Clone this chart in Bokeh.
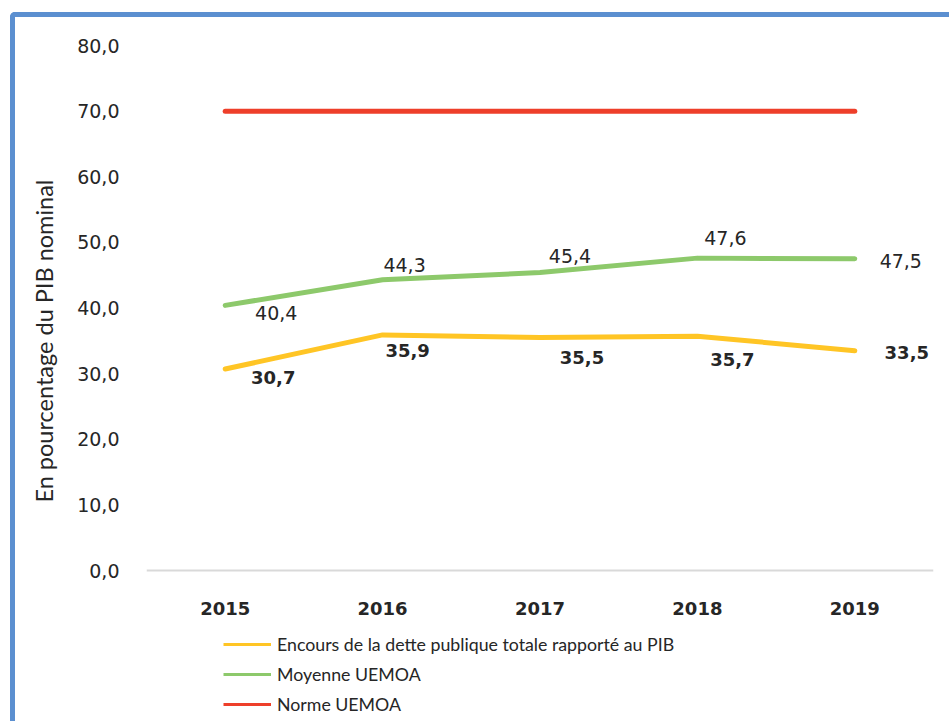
from bokeh.plotting import figure
from bokeh.models import (FactorRange, Range1d, ColumnDataSource, Legend, LegendItem,
                          FixedTicker, InlineStyleSheet, Title)
from bokeh.core.properties import value
from bokeh.embed import file_html
from bokeh.resources import INLINE

years = ["2015", "2016", "2017", "2018", "2019"]
encours = [30.7, 35.9, 35.5, 35.7, 33.5]
moyenne = [40.4, 44.3, 45.4, 47.6, 47.5]
norme = [70.0, 70.0, 70.0, 70.0, 70.0]
y_ticks = [0, 10, 20, 30, 40, 50, 60, 70, 80]

# label offsets (screen px, +y = down) for data labels
enc_dx = [48, 25, 42, 35, 52]
enc_dy = [8, 16, 20, 23, 2]
moy_dx = [51, 22, 30, 28, 46]
moy_dy = [8, -15, -17, -20, 2]

def fmt(v):
    return f"{v:.1f}".replace(".", ",")

YELLOW = "#FFC525"
GREEN = "#8DC96B"
RED = "#EE3F2A"
TXT = "#262626"

W, H = 949, 721
FL, FR, FT, Y0 = 146, 933, 45, 570   # frame left/right/top, pixel row of y=0
y_start = -80.0 * (H - Y0) / (Y0 - FT)

p = figure(x_range=FactorRange(*years), y_range=Range1d(y_start, 80),
           width=W, height=H, output_backend="svg", toolbar_location=None,
           min_border_left=FL, min_border_right=W - FR, min_border_top=FT,
           min_border_bottom=0)
p.outline_line_color = None
p.xgrid.grid_line_color = None
p.ygrid.grid_line_color = None
p.background_fill_color = "white"
p.border_fill_color = "white"

src = ColumnDataSource(dict(x=years, enc=encours, moy=moyenne, nor=norme,
                            enc_t=[fmt(v) for v in encours],
                            moy_t=[fmt(v) for v in moyenne],
                            enc_dx=enc_dx, enc_dy=enc_dy, moy_dx=moy_dx, moy_dy=moy_dy))

p.line("x", "enc", source=src, line_color=YELLOW, line_width=5, line_cap="round", line_join="round")
p.line("x", "moy", source=src, line_color=GREEN, line_width=5, line_cap="round", line_join="round")
p.line("x", "nor", source=src, line_color=RED, line_width=5, line_cap="round", line_join="round")

# thinner line samples for the legend (renderers that draw nothing in the plot)
blank = ColumnDataSource(dict(x=years[:1], y=[float("nan")]))
l_enc = p.line("x", "y", source=blank, line_color=YELLOW, line_width=3)
l_moy = p.line("x", "y", source=blank, line_color=GREEN, line_width=3)
l_nor = p.line("x", "y", source=blank, line_color=RED, line_width=3)

p.text("x", "moy", text="moy_t", source=src, x_offset="moy_dx", y_offset="moy_dy",
       text_align="center", text_baseline="middle", text_font=value("DejaVu Sans"),
       text_font_size="19px", text_color=TXT)
p.text("x", "enc", text="enc_t", source=src, x_offset="enc_dx", y_offset="enc_dy",
       text_align="center", text_baseline="middle", text_font=value("DejaVu Sans"),
       text_font_size="18px", text_font_style="bold", text_color=TXT)

# axes
p.yaxis.ticker = FixedTicker(ticks=y_ticks)
p.yaxis.major_label_overrides = {t: fmt(t) for t in y_ticks}
p.yaxis.axis_line_color = None
p.yaxis.major_tick_line_color = None
p.yaxis.minor_tick_line_color = None
p.yaxis.major_label_standoff = 21
p.yaxis.major_label_text_font = "DejaVu Sans"
p.yaxis.major_label_text_font_size = "19px"
p.yaxis.major_label_text_color = TXT

p.add_layout(Title(text="En pourcentage du PIB nominal", align="left", offset=H - 502,
                   text_font="Lato", text_font_size="23.5px", text_font_style="normal",
                   text_color=TXT, standoff=33), "left")

p.xaxis.fixed_location = 0
p.xaxis.axis_line_color = "#D9D9D9"
p.xaxis.axis_line_width = 2
p.xaxis.major_tick_line_color = None
p.xaxis.minor_tick_line_color = None
p.xaxis.major_label_standoff = 25
p.xaxis.major_label_text_font = "DejaVu Sans"
p.xaxis.major_label_text_font_size = "18px"
p.xaxis.major_label_text_font_style = "bold"
p.xaxis.major_label_text_color = TXT

legend = Legend(items=[
    LegendItem(label="Encours de la dette publique totale rapporté au PIB", renderers=[l_enc]),
    LegendItem(label="Moyenne UEMOA", renderers=[l_moy]),
    LegendItem(label="Norme UEMOA", renderers=[l_nor]),
], orientation="vertical", location=(77, 6), padding=0, margin=0, spacing=8,
   glyph_width=48, glyph_height=20, label_height=20, label_standoff=6,
   label_text_font="Lato", label_text_font_size="17.75px", label_text_color=TXT,
   border_line_color=None, background_fill_alpha=0)
p.add_layout(legend, "center")

p.stylesheets = [InlineStyleSheet(css="""
:host::after { content: ''; position: absolute; left: 10px; top: 12px; right: -20px; bottom: -20px;
  border-top: 5px solid #5B8FD0; border-left: 5px solid #5B8FD0; border-top-left-radius: 5px;
  pointer-events: none; }
""")]

open("out.html", "w").write(file_html(p, INLINE))
